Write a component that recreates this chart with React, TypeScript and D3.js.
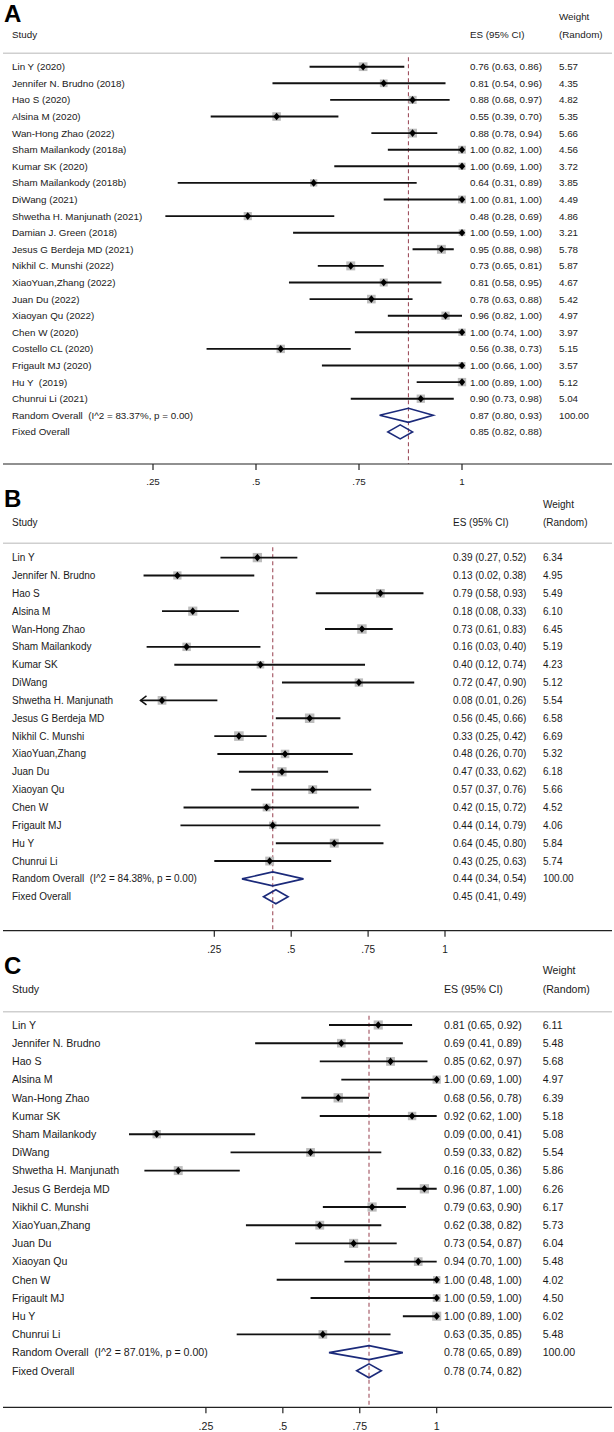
import React from "react";
import * as d3 from "d3";

// ---------------- Panel A data ----------------
const studiesA = [
  "Lin Y (2020)", "Jennifer N. Brudno (2018)", "Hao S (2020)", "Alsina M (2020)",
  "Wan-Hong Zhao (2022)", "Sham Mailankody (2018a)", "Kumar SK (2020)",
  "Sham Mailankody (2018b)", "DiWang (2021)", "Shwetha H. Manjunath (2021)",
  "Damian J. Green (2018)", "Jesus G Berdeja MD (2021)", "Nikhil C. Munshi (2022)",
  "XiaoYuan,Zhang (2022)", "Juan Du (2022)", "Xiaoyan Qu (2022)", "Chen W (2020)",
  "Costello CL (2020)", "Frigault MJ (2020)", "Hu Y  (2019)", "Chunrui Li (2021)",
];
const esA = [0.76, 0.81, 0.88, 0.55, 0.88, 1.0, 1.0, 0.64, 1.0, 0.48, 1.0, 0.95, 0.73, 0.81, 0.78, 0.96, 1.0, 0.56, 1.0, 1.0, 0.9];
const lowerA = [0.63, 0.54, 0.68, 0.39, 0.78, 0.82, 0.69, 0.31, 0.81, 0.28, 0.59, 0.88, 0.65, 0.58, 0.63, 0.82, 0.74, 0.38, 0.66, 0.89, 0.73];
const upperA = [0.86, 0.96, 0.97, 0.7, 0.94, 1.0, 1.0, 0.89, 1.0, 0.69, 1.0, 0.98, 0.81, 0.95, 0.88, 1.0, 1.0, 0.73, 1.0, 1.0, 0.98];
const weightA = [5.57, 4.35, 4.82, 5.35, 5.66, 4.56, 3.72, 3.85, 4.49, 4.86, 3.21, 5.78, 5.87, 4.67, 5.42, 4.97, 3.97, 5.15, 3.57, 5.12, 5.04];
const overallLabelsA = ["Random Overall  (I^2 = 83.37%, p = 0.00)", "Fixed Overall"];
const overallEsA = [0.87, 0.85];
const overallLowerA = [0.8, 0.82];
const overallUpperA = [0.93, 0.88];
const overallWeightA = ["100.00", ""];

// ---------------- Panel B data ----------------
const studiesB = [
  "Lin Y", "Jennifer N. Brudno", "Hao S", "Alsina M", "Wan-Hong Zhao", "Sham Mailankody",
  "Kumar SK", "DiWang", "Shwetha H. Manjunath", "Jesus G Berdeja MD", "Nikhil C. Munshi",
  "XiaoYuan,Zhang", "Juan Du", "Xiaoyan Qu", "Chen W", "Frigault MJ", "Hu Y", "Chunrui Li",
];
const esB = [0.39, 0.13, 0.79, 0.18, 0.73, 0.16, 0.4, 0.72, 0.08, 0.56, 0.33, 0.48, 0.47, 0.57, 0.42, 0.44, 0.64, 0.43];
const lowerB = [0.27, 0.02, 0.58, 0.08, 0.61, 0.03, 0.12, 0.47, 0.01, 0.45, 0.25, 0.26, 0.33, 0.37, 0.15, 0.14, 0.45, 0.25];
const upperB = [0.52, 0.38, 0.93, 0.33, 0.83, 0.4, 0.74, 0.9, 0.26, 0.66, 0.42, 0.7, 0.62, 0.76, 0.72, 0.79, 0.8, 0.63];
const weightB = [6.34, 4.95, 5.49, 6.1, 6.45, 5.19, 4.23, 5.12, 5.54, 6.58, 6.69, 5.32, 6.18, 5.66, 4.52, 4.06, 5.84, 5.74];
const overallLabelsB = ["Random Overall  (I^2 = 84.38%, p = 0.00)", "Fixed Overall"];
const overallEsB = [0.44, 0.45];
const overallLowerB = [0.34, 0.41];
const overallUpperB = [0.54, 0.49];
const overallWeightB = ["100.00", ""];

// ---------------- Panel C data ----------------
const studiesC = [
  "Lin Y", "Jennifer N. Brudno", "Hao S", "Alsina M", "Wan-Hong Zhao", "Kumar SK",
  "Sham Mailankody", "DiWang", "Shwetha H. Manjunath", "Jesus G Berdeja MD", "Nikhil C. Munshi",
  "XiaoYuan,Zhang", "Juan Du", "Xiaoyan Qu", "Chen W", "Frigault MJ", "Hu Y", "Chunrui Li",
];
const esC = [0.81, 0.69, 0.85, 1.0, 0.68, 0.92, 0.09, 0.59, 0.16, 0.96, 0.79, 0.62, 0.73, 0.94, 1.0, 1.0, 1.0, 0.63];
const lowerC = [0.65, 0.41, 0.62, 0.69, 0.56, 0.62, 0.0, 0.33, 0.05, 0.87, 0.63, 0.38, 0.54, 0.7, 0.48, 0.59, 0.89, 0.35];
const upperC = [0.92, 0.89, 0.97, 1.0, 0.78, 1.0, 0.41, 0.82, 0.36, 1.0, 0.9, 0.82, 0.87, 1.0, 1.0, 1.0, 1.0, 0.85];
const weightC = [6.11, 5.48, 5.68, 4.97, 6.39, 5.18, 5.08, 5.54, 5.86, 6.26, 6.17, 5.73, 6.04, 5.48, 4.02, 4.5, 6.02, 5.48];
const overallLabelsC = ["Random Overall  (I^2 = 87.01%, p = 0.00)", "Fixed Overall"];
const overallEsC = [0.78, 0.78];
const overallLowerC = [0.65, 0.74];
const overallUpperC = [0.89, 0.82];
const overallWeightC = ["100.00", ""];

// ---------------- shared axis ----------------
const tickValues = [0.25, 0.5, 0.75, 1];
const tickLabels = [".25", ".5", ".75", "1"];
const headerStudy = "Study";
const headerES = "ES (95% CI)";
const headerWeight1 = "Weight";
const headerWeight2 = "(Random)";

const FONT = "'Liberation Sans', Arial, Helvetica, sans-serif";
const W = 614;
const H = 1432;

type PanelData = {
  letter: string;
  studies: string[];
  es: number[];
  lower: number[];
  upper: number[];
  weight: number[];
  oLabels: string[];
  oEs: number[];
  oLower: number[];
  oUpper: number[];
  oWeight: string[];
};

type Layout = {
  letterBase: number;
  font: number;
  weightHeadY: number;
  studyHeadY: number;
  lineY: number;
  row0: number;
  step: number;
  axisY: number;
  tickLabelY: number;
  x0: number;
  x1: number;
  esX: number;
  wX: number;
  clipMin: number;
  boxK: number;
};

const fmt = d3.format(".2f");

function Panel({ d, L }: { d: PanelData; L: Layout }) {
  const x = d3.scaleLinear().domain([0, 1]).range([L.x0, L.x1]);
  const n = d.studies.length;
  const y = (i: number) => L.row0 + i * L.step;
  const dy = L.font * 0.35;
  const textColor = "#1a1a1a";
  const pooled = d.oEs[0];
  const diamondPath = (lo: number, es: number, hi: number, cy: number) =>
    `M${x(lo)},${cy} L${x(es)},${cy - 7} L${x(hi)},${cy} L${x(es)},${cy + 7} Z`;

  return (
    <g>
      <text x={4} y={L.letterBase} fontFamily={FONT} fontWeight="bold" fontSize={24} fill="#000">
        {d.letter}
      </text>
      <text x={L.wX} y={L.weightHeadY + dy} fontFamily={FONT} fontSize={L.font} fill={textColor}>
        {headerWeight1}
      </text>
      <text x={12} y={L.studyHeadY + dy} fontFamily={FONT} fontSize={L.font} fill={textColor}>
        {headerStudy}
      </text>
      <text x={L.esX} y={L.studyHeadY + dy} fontFamily={FONT} fontSize={L.font} fill={textColor}>
        {headerES}
      </text>
      <text x={L.wX} y={L.studyHeadY + dy} fontFamily={FONT} fontSize={L.font} fill={textColor}>
        {headerWeight2}
      </text>
      <line x1={3} x2={612} y1={L.lineY} y2={L.lineY} stroke="#cfcfcf" strokeWidth={1.5} />

      {/* pooled dashed line */}
      <line
        x1={x(pooled)}
        x2={x(pooled)}
        y1={L.lineY + 4}
        y2={L.axisY}
        stroke="#a0505e"
        strokeWidth={1.1}
        strokeDasharray="4,3"
      />

      {d.studies.map((s, i) => {
        const cy = y(i);
        const clipped = d.lower[i] < L.clipMin;
        const side = L.boxK * Math.sqrt(d.weight[i]);
        const cx = x(d.es[i]);
        const lx = x(d.lower[i]);
        return (
          <g key={s + i}>
            <text
              x={12}
              y={cy + dy}
              fontFamily={FONT}
              fontSize={L.font}
              fill={textColor}
              style={{ whiteSpace: "pre" }}
            >
              {s}
            </text>
            <rect x={cx - side / 2} y={cy - side / 2} width={side} height={side} fill="#bdbdbd" />
            <line x1={lx} x2={x(d.upper[i])} y1={cy} y2={cy} stroke="#111" strokeWidth={1.9} />
            {clipped && (
              <path
                d={`M${lx + 6},${cy - 4.5} L${lx},${cy} L${lx + 6},${cy + 4.5}`}
                fill="none"
                stroke="#111"
                strokeWidth={1.5}
              />
            )}
            <path
              d={`M${cx},${cy - 3.8} L${cx + 3.2},${cy} L${cx},${cy + 3.8} L${cx - 3.2},${cy} Z`}
              fill="#000"
            />
            <text x={L.esX} y={cy + dy} fontFamily={FONT} fontSize={L.font} fill={textColor}>
              {`${fmt(d.es[i])} (${fmt(d.lower[i])}, ${fmt(d.upper[i])})`}
            </text>
            <text x={L.wX} y={cy + dy} fontFamily={FONT} fontSize={L.font} fill={textColor}>
              {fmt(d.weight[i])}
            </text>
          </g>
        );
      })}

      {d.oLabels.map((s, j) => {
        const cy = y(n + j);
        return (
          <g key={"o" + j}>
            <text
              x={12}
              y={cy + dy}
              fontFamily={FONT}
              fontSize={L.font}
              fill={textColor}
              style={{ whiteSpace: "pre" }}
            >
              {s}
            </text>
            <path
              d={diamondPath(d.oLower[j], d.oEs[j], d.oUpper[j], cy)}
              fill="none"
              stroke="#1b2a7a"
              strokeWidth={1.6}
              strokeLinejoin="miter"
            />
            <text x={L.esX} y={cy + dy} fontFamily={FONT} fontSize={L.font} fill={textColor}>
              {`${fmt(d.oEs[j])} (${fmt(d.oLower[j])}, ${fmt(d.oUpper[j])})`}
            </text>
            <text x={L.wX} y={cy + dy} fontFamily={FONT} fontSize={L.font} fill={textColor}>
              {d.oWeight[j]}
            </text>
          </g>
        );
      })}

      {/* x axis */}
      <line x1={3} x2={612} y1={L.axisY} y2={L.axisY} stroke="#222" strokeWidth={1.2} />
      {tickValues.map((t, k) => (
        <g key={"t" + k}>
          <line x1={x(t)} x2={x(t)} y1={L.axisY} y2={L.axisY + 6} stroke="#222" strokeWidth={1.2} />
          <text
            x={x(t)}
            y={L.tickLabelY + dy}
            textAnchor="middle"
            fontFamily={FONT}
            fontSize={L.font}
            fill={textColor}
          >
            {tickLabels[k]}
          </text>
        </g>
      ))}
    </g>
  );
}

const panelA: PanelData = {
  letter: "A", studies: studiesA, es: esA, lower: lowerA, upper: upperA, weight: weightA,
  oLabels: overallLabelsA, oEs: overallEsA, oLower: overallLowerA, oUpper: overallUpperA, oWeight: overallWeightA,
};
const panelB: PanelData = {
  letter: "B", studies: studiesB, es: esB, lower: lowerB, upper: upperB, weight: weightB,
  oLabels: overallLabelsB, oEs: overallEsB, oLower: overallLowerB, oUpper: overallUpperB, oWeight: overallWeightB,
};
const panelC: PanelData = {
  letter: "C", studies: studiesC, es: esC, lower: lowerC, upper: upperC, weight: weightC,
  oLabels: overallLabelsC, oEs: overallEsC, oLower: overallLowerC, oUpper: overallUpperC, oWeight: overallWeightC,
};

const layoutA: Layout = {
  letterBase: 22, font: 9.8, weightHeadY: 16.7, studyHeadY: 34.3, lineY: 53.3,
  row0: 66.7, step: 16.6, axisY: 464, tickLabelY: 482, x0: 50, x1: 462, esX: 470, wX: 559,
  clipMin: -1, boxK: 3.7,
};
const layoutB: Layout = {
  letterBase: 507, font: 10, weightHeadY: 504, studyHeadY: 522, lineY: 543.3,
  row0: 557.6, step: 17.85, axisY: 930.7, tickLabelY: 949, x0: 137.4, x1: 445, esX: 453, wX: 543,
  clipMin: 0.015, boxK: 3.7,
};
const layoutC: Layout = {
  letterBase: 974, font: 10.6, weightHeadY: 970.7, studyHeadY: 989, lineY: 1011.7,
  row0: 1025, step: 18.2, axisY: 1407.3, tickLabelY: 1426.7, x0: 129, x1: 436.7, esX: 444, wX: 542.7,
  clipMin: -1, boxK: 3.7,
};

export default function App() {
  return (
    <div style={{ position: "absolute", left: 0, top: 0, width: W, height: H, background: "#fff" }}>
      <svg width={W} height={H} viewBox={`0 0 ${W} ${H}`} style={{ display: "block" }}>
        <rect width={W} height={H} fill="#fff" />
        <Panel d={panelA} L={layoutA} />
        <Panel d={panelB} L={layoutB} />
        <Panel d={panelC} L={layoutC} />
      </svg>
    </div>
  );
}
